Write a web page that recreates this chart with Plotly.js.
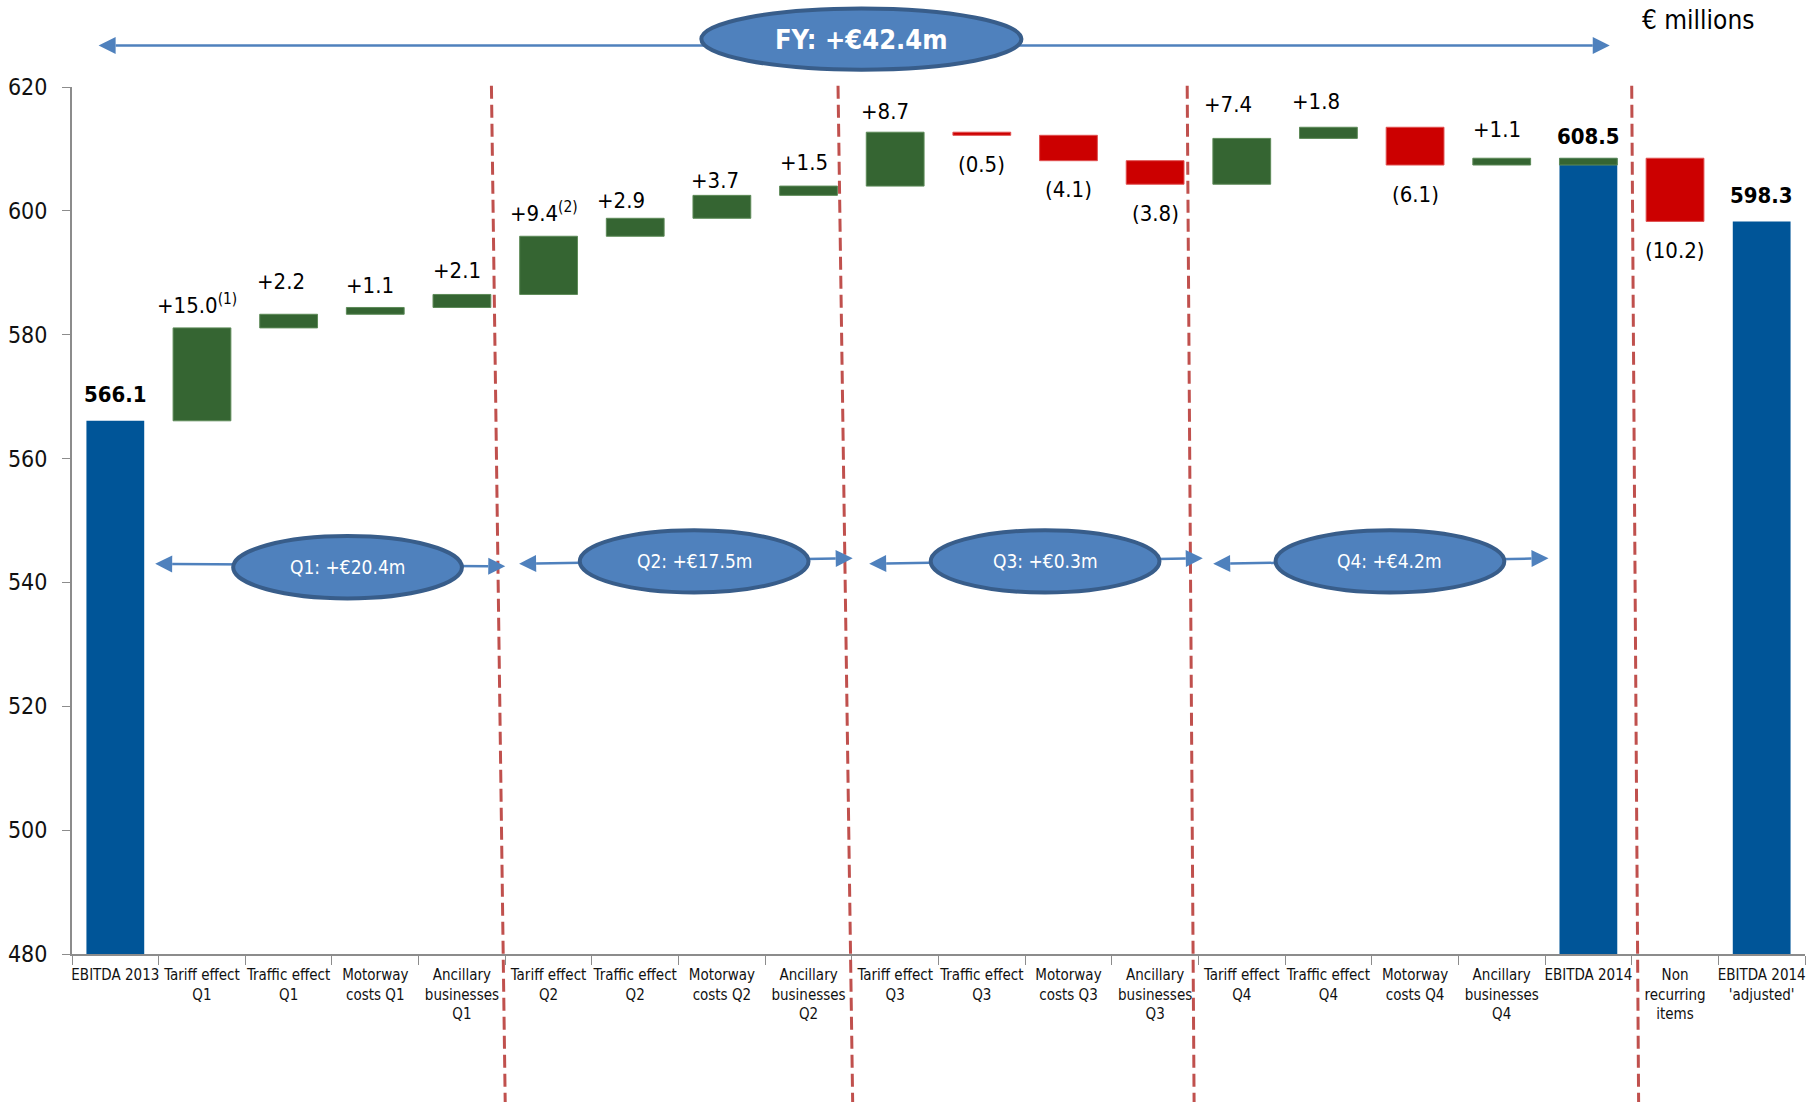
<!DOCTYPE html>
<html><head><meta charset="utf-8">
<script src="https://cdn.plot.ly/plotly-3.0.1.min.js"></script>
<style>html,body{margin:0;padding:0;background:#fff;} #chart{width:1812px;height:1102px;}</style>
</head><body><div id="chart"></div>
<script>
// ---------------- DATA ----------------
const categories = [
  "EBITDA 2013",
  "Tariff effect<br>Q1","Traffic effect<br>Q1","Motorway<br>costs Q1","Ancillary<br>businesses<br>Q1",
  "Tariff effect<br>Q2","Traffic effect<br>Q2","Motorway<br>costs Q2","Ancillary<br>businesses<br>Q2",
  "Tariff effect<br>Q3","Traffic effect<br>Q3","Motorway<br>costs Q3","Ancillary<br>businesses<br>Q3",
  "Tariff effect<br>Q4","Traffic effect<br>Q4","Motorway<br>costs Q4","Ancillary<br>businesses<br>Q4",
  "EBITDA 2014","Non<br>recurring<br>items","EBITDA 2014<br>'adjusted'"
];
const measures = [
  "total",
  "relative","relative","relative","relative",
  "relative","relative","relative","relative",
  "relative","relative","relative","relative",
  "relative","relative","relative","relative",
  "total","relative","total"
];
const values = [
  566.1,
  15.0, 2.2, 1.1, 2.1,
  9.4, 2.9, 3.7, 1.5,
  8.7, -0.5, -4.1, -3.8,
  7.4, 1.8, -6.1, 1.1,
  608.5, -10.2, 598.3
];
const footnotes = ["","(1)","","","","(2)","","","","","","","","","","","","","",""];
const quarterLabels = ["Q1: +€20.4m","Q2: +€17.5m","Q3: +€0.3m","Q4: +€4.2m"];
const fyLabel = "FY: +€42.4m";
const unitLabel = "€ millions";
const yTickValues = [480,500,520,540,560,580,600,620];

// ---------------- STYLE ----------------
const BLUE = "#005598", GREEN = "#356532", RED = "#CC0000";
const ARROW = "#4F81BD", ELL_FILL = "#4F81BD", ELL_LINE = "#385D8A", DASH_RED = "#C0504D";
const Y_MIN = 480, Y_MAX = 620;
const W = 1733, H = 867; // plot area size in px
const NARROW = "'Liberation Sans Narrow', 'Arial Narrow', 'DejaVu Sans Condensed', sans-serif";
const TAHOMA = "'DejaVu Sans Condensed', 'DejaVu Sans', sans-serif";
// per-label pixel nudges (label placement style, px)
const labelNudgeY = [2,0,9,-2,0, 0,-6,-9,0, -3,0,0,0, 10,2,0,5, -2,0,2];
const labelNudgeX = [0,0,-3,0,0, 0,-9,-2,0, -5,0,0,0, -9,-7,0,0, 0,0,0];

// ---------------- BUILD BARS ----------------
const blue = {x:[], y:[], base:[]};
const green = {x:[], y:[], base:[]};
const red = {x:[], y:[], base:[]};
const ann = [];
let running = 0;
let lastStep = null;
values.forEach((v, i) => {
  const c = categories[i];
  const font = {family:TAHOMA, size:22, color:'#000'};
  if (measures[i] === "total") {
    blue.x.push(c); blue.y.push(v); blue.base.push(0);
    // the reference shows the last quarterly step repeated as a cap on the EBITDA 2014 column
    if (lastStep !== null && i === 17) {
      green.x.push(c); green.y.push(lastStep); green.base.push(v - lastStep);
    }
    running = v;
    ann.push({x:c, y:v, xref:'x', yref:'y', text:'<b>'+v.toFixed(1)+'</b>', showarrow:false,
      xanchor:'center', yanchor:'middle', yshift:24 + labelNudgeY[i], xshift:labelNudgeX[i], font:font});
  } else {
    const start = running, end = running + v;
    const fn = footnotes[i] ? '<sup>'+footnotes[i]+'</sup>' : '';
    if (v >= 0) {
      green.x.push(c); green.y.push(v); green.base.push(start);
      ann.push({x:c, y:end, xref:'x', yref:'y', text:'+'+v.toFixed(1)+fn, showarrow:false,
        xanchor:'center', yanchor:'middle', yshift:24 + labelNudgeY[i], xshift:-5 + labelNudgeX[i], font:font});
    } else {
      red.x.push(c); red.y.push(-v); red.base.push(end);
      ann.push({x:c, y:end, xref:'x', yref:'y', text:'('+(-v).toFixed(1)+')'+fn, showarrow:false,
        xanchor:'center', yanchor:'middle', yshift:-29 + labelNudgeY[i], xshift:labelNudgeX[i], font:font});
    }
    lastStep = v;
    running = end;
  }
});

const traces = [
  {type:'bar', x:blue.x, y:blue.y, base:blue.base, marker:{color:BLUE, line:{width:0}}, hoverinfo:'skip'},
  {type:'bar', x:green.x, y:green.y, base:green.base, marker:{color:GREEN, line:{color:'#5d8a58', width:1}}, hoverinfo:'skip'},
  {type:'bar', x:red.x, y:red.y, base:red.base, marker:{color:RED, line:{color:'#e05050', width:1}}, hoverinfo:'skip'}
];

// ---------------- DECORATIONS ----------------
// u: category-boundary units (category i spans [i, i+1]); v: value units
const px = u => u / categories.length;
const py = v => (v - Y_MIN) / (Y_MAX - Y_MIN);
const shapes = [];

// dashed quarter separators [bottom u, top u]
const separators = [[5.0, 4.84], [9.01, 8.84], [12.95, 12.87], [18.08, 18.0]];
separators.forEach(([ub, ut]) => {
  shapes.push({type:'line', xref:'paper', yref:'paper', x0:px(ub), y0:-0.175, x1:px(ut), y1:1.0045,
    line:{color:DASH_RED, width:3, dash:'13px,6px'}, layer:'above'});
});

function arrow(u0, v0, u1, v1, width) {
  const X0 = u0 / categories.length * W, Y0 = py(v0) * H;
  const X1 = u1 / categories.length * W, Y1 = py(v1) * H;
  const dx = X1 - X0, dy = Y1 - Y0, len = Math.hypot(dx, dy);
  const ux = dx / len, uy = dy / len, nx = -uy, ny = ux;
  const L = 17, hw = 8.5;
  const toP = (X, Y) => (X / W).toFixed(5) + ',' + (Y / H).toFixed(5);
  shapes.push({type:'line', xref:'paper', yref:'paper',
    x0:(X0 + ux*L)/W, y0:(Y0 + uy*L)/H, x1:(X1 - ux*L)/W, y1:(Y1 - uy*L)/H,
    line:{color:ARROW, width:width}, layer:'above'});
  const tri = (hx, hy, sx, sy) => {
    const bx = hx - sx*L, by = hy - sy*L;
    return 'M' + toP(hx, hy) + ' L' + toP(bx + nx*hw, by + ny*hw) + ' L' + toP(bx - nx*hw, by - ny*hw) + ' Z';
  };
  shapes.push({type:'path', xref:'paper', yref:'paper', path:tri(X1, Y1, ux, uy), fillcolor:ARROW, line:{width:0}, layer:'above'});
  shapes.push({type:'path', xref:'paper', yref:'paper', path:tri(X0, Y0, -ux, -uy), fillcolor:ARROW, line:{width:0}, layer:'above'});
}
function ellipse(uc, vc, hu, hv, lw) {
  shapes.push({type:'circle', xref:'paper', yref:'paper', x0:px(uc-hu), x1:px(uc+hu), y0:py(vc-hv), y1:py(vc+hv),
    fillcolor:ELL_FILL, line:{color:ELL_LINE, width:lw}, layer:'above'});
}

// FY arrow + ellipse
arrow(0.307, 626.7, 17.747, 626.7, 2.5);
ellipse(9.11, 627.74, 1.847, 4.94, 4);
ann.push({x:px(9.11), y:py(627.74), xref:'paper', yref:'paper', xanchor:'center', yanchor:'middle',
  text:'<b>'+fyLabel+'</b>', showarrow:false, font:{family:TAHOMA, size:27, color:'#fff'}});

// quarter arrows + ellipses
const qArrows = [[0.96, 543.0, 5.0, 542.6], [5.16, 543.0, 9.01, 543.9], [9.2, 543.0, 13.05, 543.9], [13.17, 543.0, 17.04, 543.9]];
const qEll = [[3.18, 542.45], [7.18, 543.4], [11.23, 543.4], [15.21, 543.4]];
quarterLabels.forEach((t, q) => {
  const a = qArrows[q];
  arrow(a[0], a[1], a[2], a[3], 2.5);
  ellipse(qEll[q][0], qEll[q][1], 1.32, 5.03, 4);
  ann.push({x:px(qEll[q][0]), y:py(qEll[q][1]), xref:'paper', yref:'paper', xanchor:'center', yanchor:'middle',
    text:t, showarrow:false, font:{family:NARROW, size:19, color:'#fff'}});
});

ann.push({x:px(18.76), y:py(630.8), xref:'paper', yref:'paper', xanchor:'center', yanchor:'middle',
  text:unitLabel, showarrow:false, font:{family:TAHOMA, size:26, color:'#000'}});

const layout = {
  width:1812, height:1102,
  margin:{l:72, r:7, t:87, b:148},
  paper_bgcolor:'#fff', plot_bgcolor:'#fff',
  barmode:'overlay', bargap:0.333,
  showlegend:false,
  font:{family:NARROW, color:'#000'},
  xaxis:{type:'category', categoryorder:'array', categoryarray:categories, range:[-0.5, categories.length-0.5],
    showline:true, linecolor:'#8c8c8c', linewidth:2, ticks:'outside', tickson:'boundaries', ticklen:9, tickcolor:'#8c8c8c',
    tickangle:0, tickfont:{family:NARROW, size:15, color:'#111'}, ticklabelstandoff:6,
    showgrid:false, zeroline:false, fixedrange:true},
  yaxis:{range:[Y_MIN, Y_MAX], tickvals:yTickValues, ticktext:yTickValues.map(String),
    showline:true, linecolor:'#8c8c8c', linewidth:2, ticks:'outside', ticklen:8, tickcolor:'#8c8c8c',
    tickfont:{family:NARROW, size:23, color:'#111'}, ticklabelstandoff:10, showgrid:false, zeroline:false, fixedrange:true},
  shapes:shapes,
  annotations:ann
};
Plotly.newPlot('chart', traces, layout, {staticPlot:true, displayModeBar:false});
</script>
</body></html>
